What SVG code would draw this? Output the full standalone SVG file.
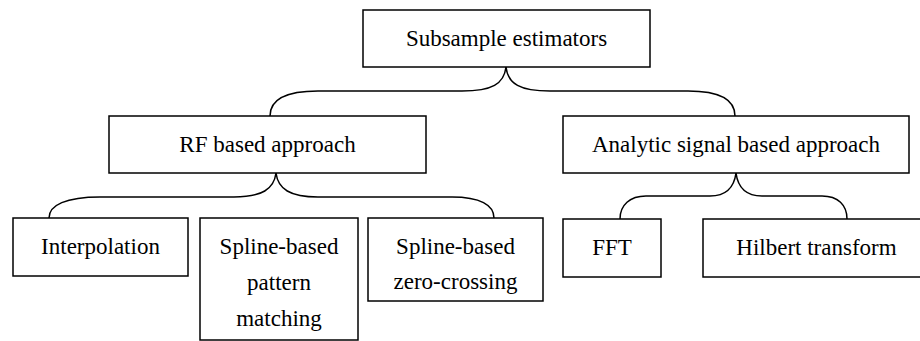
<svg xmlns="http://www.w3.org/2000/svg" width="920" height="341" viewBox="0 0 920 341">
  <style>
    .box { fill: #ffffff; stroke: #000000; stroke-width: 1.5; }
    .lbl { font-family: 'Liberation Serif', 'Times New Roman', serif; font-size: 23px; fill: #000000; text-anchor: middle; }
    .brace { fill: none; stroke: #000000; stroke-width: 1.5; }
  </style>
  <rect width="920" height="341" fill="#ffffff"/>

  <!-- curly-brace connectors from each parent to its children -->
  <g id="connectors">
    <path class="brace" d="M506,67 C504,84 492,91 462,91 L318,91 C284,91 270,100 270,116"/>
    <path class="brace" d="M506,67 C508,84 520,91 550,91 L688,91 C720,91 735,100 735,116"/>
    <path class="brace" d="M276,173 C274,189 262,197 234,197 L100,197 C66,197 49,205 49,218"/>
    <path class="brace" d="M276,173 C278,189 290,197 318,197 L452,197 C480,197 494,205 494,218"/>
    <path class="brace" d="M736,173 C734,188 726,196 710,196 L646,196 C630,196 620,205 620,219"/>
    <path class="brace" d="M736,173 C738,188 746,196 762,196 L822,196 C838,196 847,205 847,219"/>
  </g>

  <g id="root">
    <rect class="box" x="363" y="10" width="287" height="57"/>
    <text class="lbl" x="506.5" y="46">Subsample estimators</text>
  </g>

  <g id="rf">
    <rect class="box" x="109" y="116" width="317" height="57"/>
    <text class="lbl" x="267.5" y="152">RF based approach</text>
  </g>

  <g id="analytic">
    <rect class="box" x="563" y="116" width="346" height="57"/>
    <text class="lbl" x="736" y="152">Analytic signal based approach</text>
  </g>

  <g id="interpolation">
    <rect class="box" x="13" y="218" width="175" height="58"/>
    <text class="lbl" x="100.5" y="254">Interpolation</text>
  </g>

  <g id="pattern">
    <rect class="box" x="200" y="218" width="158" height="122"/>
    <text class="lbl" x="279" y="254">Spline-based</text>
    <text class="lbl" x="279" y="290">pattern</text>
    <text class="lbl" x="279" y="326">matching</text>
  </g>

  <g id="zerocross">
    <rect class="box" x="368" y="218" width="175" height="83"/>
    <text class="lbl" x="455.5" y="254">Spline-based</text>
    <text class="lbl" x="455.5" y="289">zero-crossing</text>
  </g>

  <g id="fft">
    <rect class="box" x="563" y="219" width="98" height="58"/>
    <text class="lbl" x="612" y="255">FFT</text>
  </g>

  <g id="hilbert">
    <rect class="box" x="703" y="219" width="227" height="58"/>
    <text class="lbl" x="816.5" y="255">Hilbert transform</text>
  </g>
</svg>
